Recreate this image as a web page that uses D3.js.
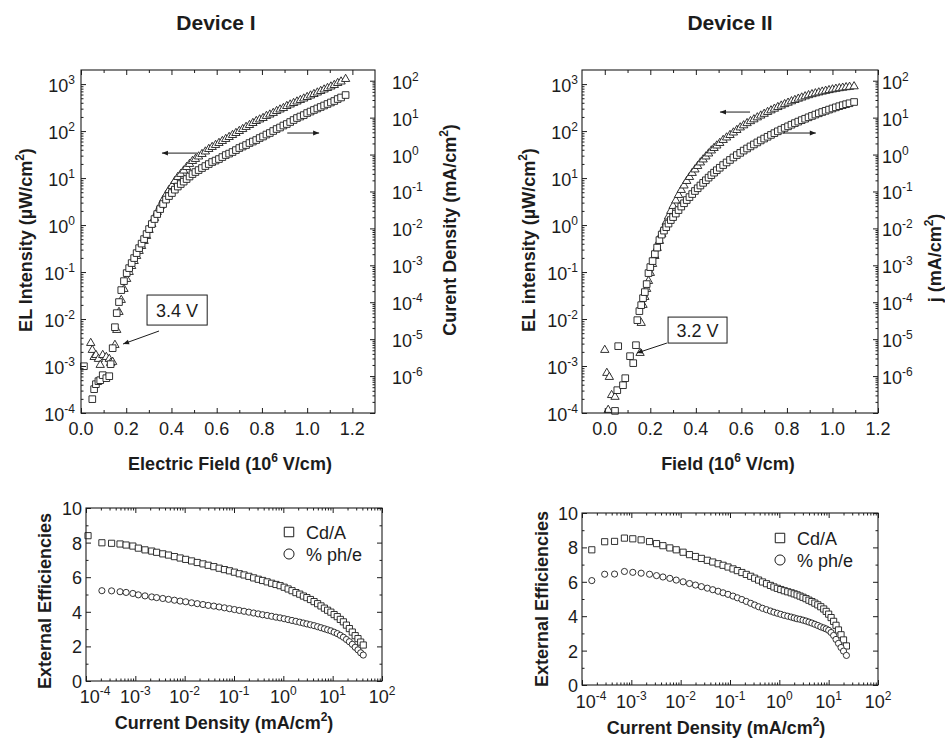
<!DOCTYPE html>
<html><head><meta charset="utf-8">
<script src="https://cdn.jsdelivr.net/npm/d3@7/dist/d3.min.js"></script>
<style>
html,body{margin:0;padding:0;background:#fff;}
svg{display:block;}
</style></head>
<body>
<svg id="chart" width="945" height="741"></svg>
<script>
// ---------------- DATA ----------------
// Device I : field (10^6 V/cm), EL intensity (uW/cm2, triangles), current density (mA/cm2, squares)
const fieldI = [0.013,0.043,0.05,0.058,0.066,0.077,0.085,0.096,0.112,0.125,0.131,0.14,0.15,0.158,0.168,0.178,0.19,0.202,0.213,0.224,0.235,0.246,0.257,0.268,0.279,0.29,0.301,0.313,0.325,0.337,0.35,0.363,0.376,0.389,0.402,0.415,0.428,0.441,0.454,0.467,0.48,0.493,0.506,0.52,0.535,0.55,0.565,0.58,0.595,0.61,0.625,0.64,0.655,0.67,0.685,0.70,0.715,0.73,0.745,0.76,0.775,0.79,0.805,0.82,0.835,0.85,0.865,0.88,0.895,0.91,0.925,0.94,0.955,0.97,0.985,1.0,1.015,1.03,1.045,1.06,1.075,1.09,1.105,1.12,1.135,1.15,1.17];
const elI = [null,3.08e-3,2.19e-3,1.55e-3,1.71e-3,1.41e-3,1.05e-3,1.71e-3,1.55e-3,1.41e-3,1.16e-3,1.22e-3,2.80e-3,5.83e-3,1.41e-2,2.54e-2,4.35e-2,7.10e-2,0.100,0.134,0.171,0.219,0.280,0.357,0.457,0.583,0.783,1.05,1.41,1.89,2.54,3.40,4.35,5.56,6.76,8.63,10.5,12.2,14.4,17.1,19.9,23.0,25.4,28.7,32.4,36.6,41.4,45.7,50.4,55.6,61.3,67.6,74.5,82.2,90.6,100,110,122,134,148,163,176,189,209,224,242,266,287,308,340,366,394,424,457,491,529,569,612,659,710,764,822,885,953,1050,1130,1280];
const jI = [1.85e-6,null,2.37e-7,4.42e-7,6.03e-7,7.28e-7,7.74e-7,1.06e-6,8.77e-7,9.93e-7,2.10e-6,5.70e-6,2.11e-5,5.07e-5,1.01e-4,2.13e-4,3.73e-4,6.15e-4,8.39e-4,1.15e-3,1.57e-3,2.14e-3,2.92e-3,3.87e-3,5.13e-3,7.02e-3,9.57e-3,1.31e-2,1.79e-2,2.44e-2,3.33e-2,4.56e-2,6.03e-2,7.50e-2,9.06e-2,0.112,0.136,0.159,0.185,0.217,0.254,0.296,0.336,0.380,0.431,0.488,0.553,0.627,0.687,0.755,0.855,0.969,1.06,1.17,1.32,1.50,1.65,1.81,2.05,2.25,2.47,2.80,3.08,3.48,3.83,4.34,4.91,5.40,6.11,6.71,7.60,8.61,9.75,10.7,11.7,13.3,14.6,16.1,17.7,19.4,21.3,23.4,25.7,28.2,31.9,35.1,40.9];

// Device II
const fieldII = [0.0,0.009,0.015,0.02,0.03,0.045,0.055,0.059,0.08,0.09,0.111,0.125,0.137,0.143,0.152,0.155,0.16,0.168,0.176,0.184,0.192,0.2,0.21,0.22,0.23,0.24,0.25,0.26,0.27,0.28,0.29,0.30,0.312,0.324,0.336,0.348,0.36,0.372,0.384,0.396,0.408,0.42,0.432,0.444,0.456,0.468,0.48,0.492,0.505,0.52,0.535,0.55,0.565,0.58,0.595,0.61,0.625,0.64,0.655,0.67,0.685,0.70,0.715,0.73,0.745,0.76,0.775,0.79,0.805,0.82,0.835,0.85,0.865,0.88,0.895,0.91,0.925,0.94,0.955,0.97,0.985,1.0,1.015,1.03,1.045,1.06,1.075,1.095];
const elII = [2.19e-3,7.1e-4,1.16e-4,5.83e-4,2.4e-4,2.2e-4,null,null,null,null,null,null,null,null,null,1.89e-3,8.22e-3,1.99e-2,2.94e-2,4.35e-2,6.44e-2,9.53e-2,0.148,0.219,0.324,0.457,0.644,0.863,1.16,1.52,1.99,2.54,3.32,4.35,5.56,6.92,8.63,10.5,12.8,15.2,18.0,21.4,24.8,28.7,33.2,38.5,43.5,49.1,55.6,64.4,72.8,82.2,92.9,105,119,132,147,162,177,195,213,232,254,275,298,323,347,373,400,429,457,487,516,547,578,607,634,662,689,716,741,767,791,814,834,855,871,893];
const jII = [null,null,null,null,null,1.14e-7,4.15e-7,6.46e-6,5.66e-7,8.77e-7,3.46e-6,2.24e-6,6.87e-6,3.27e-5,5.74e-5,null,8.34e-5,1.29e-4,1.88e-4,3.10e-4,6.15e-4,8.93e-4,1.30e-3,2.01e-3,3.02e-3,4.82e-3,6.79e-3,8.71e-3,1.08e-2,1.35e-2,1.68e-2,2.02e-2,2.52e-2,3.13e-2,3.90e-2,4.79e-2,5.85e-2,7.05e-2,8.51e-2,0.103,0.122,0.145,0.171,0.201,0.237,0.277,0.323,0.376,0.439,0.519,0.611,0.714,0.834,0.968,1.11,1.28,1.46,1.66,1.88,2.13,2.41,2.71,3.03,3.40,3.80,4.26,4.73,5.26,5.81,6.43,7.10,7.80,8.55,9.33,10.2,11.1,12.1,13.1,14.2,15.3,16.5,17.7,19.0,20.4,21.7,23.1,24.5,26.5];

// External efficiencies vs current density (mA/cm2)
const jEffI = [1.1e-4,2.1e-4,3.3e-4,4.9e-4,6.5e-4,8.9e-4,1.15e-3,1.57e-3,2.15e-3,2.7e-3,3.6e-3,4.7e-3,6.2e-3,8.1e-3,1.05e-2,1.38e-2,1.8e-2,2.35e-2,3.0e-2,3.9e-2,5.0e-2,6.4e-2,8.1e-2,0.102,0.128,0.16,0.2,0.25,0.31,0.38,0.47,0.58,0.71,0.86,1.04,1.25,1.5,1.8,2.15,2.55,3.0,3.55,4.2,4.95,5.8,6.8,7.9,9.2,10.7,12.4,14.3,16.5,19.0,21.8,25.0,28.6,32.6,37.0,41.7];
const cdaI = [8.40,7.99,7.96,7.92,7.86,7.80,7.68,7.58,7.51,7.44,7.35,7.28,7.19,7.11,7.03,6.94,6.85,6.77,6.69,6.61,6.52,6.44,6.37,6.29,6.20,6.13,6.05,5.96,5.88,5.81,5.73,5.65,5.58,5.51,5.42,5.32,5.22,5.11,5.02,4.91,4.82,4.71,4.59,4.47,4.34,4.21,4.09,3.98,3.84,3.72,3.56,3.42,3.23,3.03,2.83,2.62,2.45,2.25,2.08];
const pheI = [null,5.22,5.21,5.16,5.12,5.06,4.98,4.92,4.86,4.82,4.77,4.72,4.67,4.62,4.58,4.52,4.47,4.42,4.37,4.33,4.28,4.23,4.18,4.13,4.08,4.03,3.98,3.93,3.88,3.83,3.79,3.74,3.69,3.65,3.60,3.55,3.50,3.45,3.40,3.35,3.30,3.25,3.20,3.14,3.08,3.02,2.96,2.90,2.82,2.74,2.64,2.53,2.40,2.27,2.12,1.95,1.80,1.63,1.50];
const jEffII = [1.58e-4,2.88e-4,4.57e-4,7.24e-4,1.07e-3,1.58e-3,2.34e-3,3.24e-3,4.37e-3,6.03e-3,8.13e-3,1.12e-2,1.51e-2,2.0e-2,2.63e-2,3.47e-2,4.47e-2,5.75e-2,7.24e-2,9.12e-2,0.115,0.141,0.174,0.214,0.263,0.316,0.38,0.457,0.55,0.661,0.776,0.912,1.07,1.26,1.48,1.74,2.0,2.29,2.63,3.02,3.47,3.98,4.57,5.25,6.03,6.92,7.94,8.91,10.0,11.2,12.6,14.1,15.8,17.8,20.0,22.9];
const cdaII = [7.86,8.33,8.35,8.54,8.50,8.44,8.34,8.22,8.10,7.97,7.86,7.72,7.58,7.47,7.36,7.25,7.15,7.05,6.96,6.86,6.75,6.65,6.54,6.43,6.32,6.21,6.10,5.99,5.89,5.79,5.70,5.62,5.55,5.48,5.42,5.36,5.30,5.24,5.17,5.10,5.02,4.93,4.85,4.76,4.66,4.55,4.42,4.28,4.12,3.92,3.70,3.47,3.20,2.92,2.62,2.27];
const pheII = [6.07,6.44,6.45,6.60,6.55,6.50,6.44,6.36,6.28,6.20,6.10,6.00,5.90,5.81,5.72,5.63,5.54,5.45,5.36,5.27,5.17,5.07,4.97,4.86,4.75,4.65,4.55,4.46,4.38,4.30,4.23,4.17,4.11,4.05,4.00,3.95,3.90,3.85,3.82,3.77,3.72,3.66,3.60,3.53,3.46,3.38,3.32,3.26,3.18,3.05,2.88,2.65,2.42,2.18,1.97,1.72];

// tick labels / texts
const fieldTickLabels = ["0.0","0.2","0.4","0.6","0.8","1.0","1.2"];
const elExponents = [-4,-3,-2,-1,0,1,2,3];
const jExponents = [-6,-5,-4,-3,-2,-1,0,1,2];
const effTickLabels = [0,2,4,6,8,10];
const effXExponents = [-4,-3,-2,-1,0,1,2];
const deviceTitles = ["Device I","Device II"];
const legendLabels = ["Cd/A","% ph/e"];
const onsetLabels = ["3.4 V","3.2 V"];

// ---------------- DRAWING ----------------
const svg = d3.select("#chart");
const INK = "#1c1c1c";
const FF = "Arial, 'Liberation Sans', Helvetica, sans-serif";
svg.attr("font-family", FF);

const defs = svg.append("defs");
defs.append("marker").attr("id","ah").attr("viewBox","0 0 10 10")
  .attr("refX",10).attr("refY",5).attr("markerWidth",7).attr("markerHeight",6)
  .attr("markerUnits","userSpaceOnUse").attr("orient","auto")
  .append("path").attr("d","M0,1L10,5L0,9z").attr("fill",INK);

function rich(sel, parts, supSize, raise) {
  let up = false;
  parts.forEach(p => {
    const isSup = typeof p !== "string";
    const t = sel.append("tspan").text(isSup ? p.sup : p);
    if (isSup) { t.attr("font-size", supSize); if (!up) { t.attr("dy", -raise); up = true; } }
    else if (up) { t.attr("dy", raise); up = false; }
  });
}
function powLabel(g, x, y, exp, anchor) {
  const t = g.append("text").attr("x", x).attr("y", y).attr("text-anchor", anchor)
    .attr("font-size", 18).attr("fill", INK);
  rich(t, ["10", {sup: String(exp)}], 12, 8);
  return t;
}
function tickSet(g, axisFn, scale, values, size, transform) {
  const ax = axisFn(scale).tickValues(values).tickSizeInner(-size).tickSizeOuter(0).tickFormat("");
  const a = g.append("g").attr("transform", transform).call(ax);
  a.select(".domain").remove();
  a.selectAll(".tick line").attr("stroke", INK).attr("stroke-width", 1);
}
function logVals(dom) {
  const lo = Math.floor(Math.log10(dom[0]) + 1e-9), hi = Math.ceil(Math.log10(dom[1]) - 1e-9);
  const maj = [], min = [];
  for (let e = lo; e <= hi; e++) {
    const p = Math.pow(10, e);
    if (p >= dom[0] * 0.999 && p <= dom[1] * 1.001) maj.push(p);
    for (let k = 2; k <= 9; k++) { const v = k * p; if (v > dom[0] && v < dom[1]) min.push(v); }
  }
  return {maj, min};
}
function scatter(g, xs, ys, x, y, type, size) {
  const pts = xs.map((v, i) => [v, ys[i]]).filter(d => d[1] != null);
  g.append("g").selectAll("path").data(pts).join("path")
    .attr("transform", d => `translate(${x(d[0])},${y(d[1])})`)
    .attr("d", d3.symbol().type(type).size(size))
    .attr("fill", "#fff").attr("stroke", INK).attr("stroke-width", 0.9);
}
function frame(g, box) {
  g.append("rect").attr("x", box.l).attr("y", box.t).attr("width", box.r - box.l).attr("height", box.b - box.t)
    .attr("fill", "none").attr("stroke", INK).attr("stroke-width", 1.1);
}
function title(g, x, y, parts, rotate, size) {
  const fs = size || 18;
  const t = g.append("text").attr("text-anchor", "middle").attr("font-weight", "bold")
    .attr("font-size", fs).attr("fill", INK)
    .attr("transform", `translate(${x},${y})` + (rotate ? " rotate(-90)" : ""));
  rich(t, parts, Math.round(fs * 0.66), Math.round(fs * 0.42));
}
function arrow(g, x1, y1, x2, y2) {
  g.append("line").attr("x1", x1).attr("y1", y1).attr("x2", x2).attr("y2", y2)
    .attr("stroke", INK).attr("stroke-width", 1).attr("marker-end", "url(#ah)");
}

function drawTop(cfg) {
  const {l, r, t, b} = cfg.box;
  const g = svg.append("g");
  const x = d3.scaleLinear().domain(cfg.xDomain).range([l, r]);
  const yL = d3.scaleLog().domain([1e-4, Math.pow(10, 3.3)]).range([b, t]);
  const yR = d3.scaleLog().domain([1e-7, Math.pow(10, 2.29)]).range([b, t]);

  scatter(g, cfg.field, cfg.el, x, yL, d3.symbolTriangle, 30);
  scatter(g, cfg.field, cfg.j, x, yR, d3.symbolSquare, 44);
  frame(g, cfg.box);

  const xMaj = fieldTickLabels.map(Number);
  const xMin = d3.range(-10, 14).map(i => i / 10).filter(v => v > cfg.xDomain[0] + 1e-6 && v < cfg.xDomain[1] - 1e-6 && Math.abs(v * 5 - Math.round(v * 5)) > 1e-6);
  tickSet(g, d3.axisBottom, x, xMaj, 5, `translate(0,${b})`);
  tickSet(g, d3.axisBottom, x, xMin, 3, `translate(0,${b})`);
  tickSet(g, d3.axisTop, x, xMaj, 5, `translate(0,${t})`);
  tickSet(g, d3.axisTop, x, xMin, 3, `translate(0,${t})`);
  const lv = logVals(yL.domain()), rv = logVals(yR.domain());
  tickSet(g, d3.axisLeft, yL, lv.maj, 5, `translate(${l},0)`);
  tickSet(g, d3.axisLeft, yL, lv.min, 2.5, `translate(${l},0)`);
  tickSet(g, d3.axisRight, yR, rv.maj, 5, `translate(${r},0)`);
  tickSet(g, d3.axisRight, yR, rv.min, 2.5, `translate(${r},0)`);

  fieldTickLabels.forEach(s => g.append("text").attr("x", x(+s)).attr("y", b + 22)
    .attr("text-anchor", "middle").attr("font-size", 18).attr("fill", INK).text(s));
  elExponents.forEach(e => powLabel(g, cfg.leftLabelX, yL(Math.pow(10, e)) + 8, e, "end"));
  jExponents.forEach(e => powLabel(g, cfg.rightLabelX, yR(Math.pow(10, e)) + 8, e, "start"));

  title(g, cfg.titleX, 30, [cfg.device], false, 21);
  title(g, cfg.xTitleX, 470, cfg.xTitle, false);
  title(g, cfg.yTitleX, cfg.yTitleY, cfg.yTitle, true);
  title(g, cfg.rTitleX, cfg.rTitleY, cfg.rTitle, true);

  // annotations (data coordinates)
  const a = cfg.annot;
  arrow(g, x(a.left[0]), yL(a.left[2]), x(a.left[1]), yL(a.left[2]));
  arrow(g, x(a.right[0]), yR(a.right[2]), x(a.right[1]), yR(a.right[2]));
  const bx0 = x(a.box[0]), bx1 = x(a.box[1]), by0 = yL(a.box[2]), by1 = yL(a.box[3]);
  g.append("rect").attr("x", bx0).attr("y", by0).attr("width", bx1 - bx0).attr("height", by1 - by0)
    .attr("fill", "#fff").attr("stroke", INK).attr("stroke-width", 1);
  g.append("text").attr("x", (bx0 + bx1) / 2).attr("y", (by0 + by1) / 2 + 6.5).attr("text-anchor", "middle")
    .attr("font-size", 18).attr("fill", INK).text(cfg.onset);
  arrow(g, x(a.pointer[0]), yL(a.pointer[1]), x(a.pointer[2]), yL(a.pointer[3]));
}

function drawBottom(cfg) {
  const {l, r, t, b} = cfg.box;
  const g = svg.append("g");
  const x = d3.scaleLog().domain([1e-4, 1e2]).range([l, r]);
  const y = d3.scaleLinear().domain([0, 10]).range([b, t]);
  scatter(g, cfg.j, cfg.cda, x, y, d3.symbolSquare, 38);
  scatter(g, cfg.j, cfg.phe, x, y, d3.symbolCircle, 30);
  frame(g, cfg.box);
  const xv = logVals(x.domain());
  tickSet(g, d3.axisBottom, x, xv.maj, 5, `translate(0,${b})`);
  tickSet(g, d3.axisBottom, x, xv.min, 2.5, `translate(0,${b})`);
  tickSet(g, d3.axisTop, x, xv.maj, 5, `translate(0,${t})`);
  tickSet(g, d3.axisTop, x, xv.min, 2.5, `translate(0,${t})`);
  const yMaj = effTickLabels, yMin = [1, 3, 5, 7, 9];
  tickSet(g, d3.axisLeft, y, yMaj, 5, `translate(${l},0)`);
  tickSet(g, d3.axisLeft, y, yMin, 2.5, `translate(${l},0)`);
  tickSet(g, d3.axisRight, y, yMaj, 5, `translate(${r},0)`);
  tickSet(g, d3.axisRight, y, yMin, 2.5, `translate(${r},0)`);
  effTickLabels.forEach(v => g.append("text").attr("x", l - 4).attr("y", y(v) + 7)
    .attr("text-anchor", "end").attr("font-size", 18).attr("fill", INK).text(v));
  effXExponents.forEach((e, i) => powLabel(g, x(Math.pow(10, e)) + (i === 0 ? 9 : 0), b + cfg.xLabelDy, e, "middle"));
  title(g, cfg.xTitleX, cfg.xTitleY, ["Current Density (mA/cm", {sup: "2"}, ")"], false);
  title(g, cfg.yTitleX, cfg.yTitleY, ["External Efficiencies"], true);
  // legend
  const lg = g.append("g");
  lg.append("path").attr("transform", `translate(${cfg.legX},${cfg.legY})`)
    .attr("d", d3.symbol().type(d3.symbolSquare).size(90)).attr("fill", "#fff").attr("stroke", INK).attr("stroke-width", 1);
  lg.append("path").attr("transform", `translate(${cfg.legX},${cfg.legY + 22})`)
    .attr("d", d3.symbol().type(d3.symbolCircle).size(80)).attr("fill", "#fff").attr("stroke", INK).attr("stroke-width", 1);
  legendLabels.forEach((s, i) => lg.append("text").attr("x", cfg.legX + 17).attr("y", cfg.legY + 7 + i * 22)
    .attr("font-size", 18).attr("fill", INK).text(s));
}

drawTop({
  box: {l: 81, r: 375, t: 70, b: 413}, xDomain: [0, 1.3],
  field: fieldI, el: elI, j: jI,
  leftLabelX: 75, rightLabelX: 392,
  device: deviceTitles[0], titleX: 216,
  xTitle: ["Electric Field (10", {sup: "6"}, " V/cm)"], xTitleX: 230,
  yTitle: ["EL Intensity (\u00b5W/cm", {sup: "2"}, ")"], yTitleX: 32, yTitleY: 240,
  rTitle: ["Curent Density (mA/cm", {sup: "2"}, ")"], rTitleX: 456, rTitleY: 230,
  onset: onsetLabels[0],
  annot: {left: [0.513, 0.358, 34], right: [0.912, 1.053, 3.83],
          box: [0.292, 0.558, 3.24e-2, 7.44e-3], pointer: [0.345, 5.56e-3, 0.186, 2.94e-3]}
});
drawTop({
  box: {l: 582, r: 878, t: 70, b: 413}, xDomain: [-0.1, 1.2],
  field: fieldII, el: elII, j: jII,
  leftLabelX: 578, rightLabelX: 882,
  device: deviceTitles[1], titleX: 730,
  xTitle: ["Field (10", {sup: "6"}, " V/cm)"], xTitleX: 728,
  yTitle: ["EL intensity (\u00b5W/cm", {sup: "2"}, ")"], yTitleX: 535, yTitleY: 240,
  rTitle: ["j (mA/cm", {sup: "2"}, ")"], rTitleX: 941, rTitleY: 258,
  onset: onsetLabels[1],
  annot: {left: [0.638, 0.506, 254], right: [0.783, 0.927, 3.83],
          box: [0.278, 0.537, 1.10e-2, 3.08e-3], pointer: [0.273, 3.08e-3, 0.141, 1.89e-3]}
});
drawBottom({
  box: {l: 86, r: 382, t: 508, b: 681}, j: jEffI, cda: cdaI, phe: pheI,
  xLabelDy: 22, xTitleX: 224, xTitleY: 729, yTitleX: 51, yTitleY: 601,
  legX: 289, legY: 532
});
drawBottom({
  box: {l: 582, r: 878, t: 513, b: 685}, j: jEffII, cda: cdaII, phe: pheII,
  xLabelDy: 23, xTitleX: 716, xTitleY: 734, yTitleX: 548, yTitleY: 599,
  legX: 780, legY: 538
});
</script>
</body></html>
